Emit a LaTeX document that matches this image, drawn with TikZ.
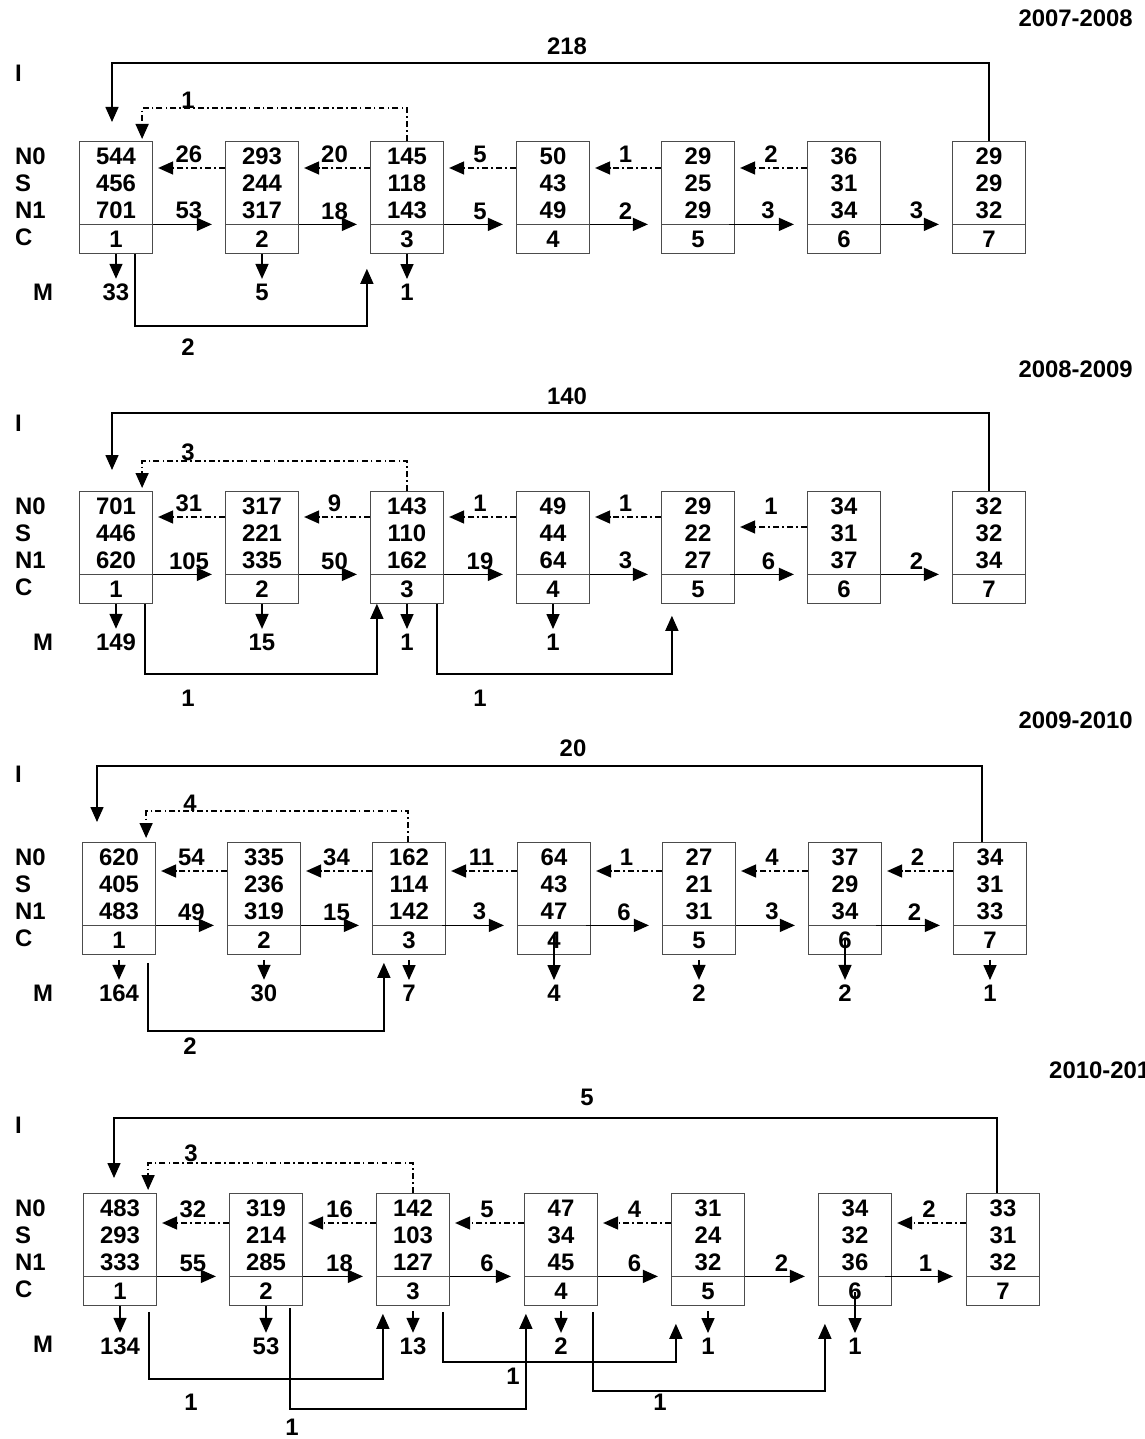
\documentclass[tikz,border=0pt]{standalone}
\usepackage{fontspec}
\setmainfont{Liberation Sans}
\usetikzlibrary{arrows.meta, calc, shapes.multipart}

\newcommand{\cellrow}[1]{\rule[-0.3pt]{0pt}{10pt}#1}

\tikzset{
  cellbox/.style={draw=black!70, line width=0.7pt, rectangle split, rectangle split parts=2,
    text width=1.46cm, align=center, inner xsep=0pt, inner ysep=0.1cm},
  lbl/.style={inner sep=2.5pt},
  fwd/.style={-{Triangle[length=0.3cm,width=0.26cm]}, line width=0.85pt},
  back/.style={fwd, dash pattern=on 3.4pt off 1.8pt on 0.9pt off 1.8pt, shorten >=0.1cm},
  yr/.style={anchor=east}
}

\begin{document}
\begin{tikzpicture}[x=0.02cm, y=-0.02cm, font=\bfseries\fontsize{13.6}{15.36}\selectfont]
\useasboundingbox (0,0) rectangle (1145,1439);

% row labels of the four years
\foreach \p/\oy in {1/0, 2/350, 3/701, 4/1052} {
  \node[anchor=west] (i\p) at (9,73+\oy) {I};
  \foreach \t/\y in {N0/156, S/183, N1/210, C/237}
    \node[anchor=west] (r\p\t) at (9,\y+\oy) {\t};
  \node (m\p) at (43,292+\oy) {M};
}

% ---------------- 2007-2008
\node[yr] (y1) at (1139,18) {2007-2008};
\foreach \x/\na/\nb/\nc [count=\i] in {116/544/456/701, 262/293/244/317, 407/145/118/143,
    553/50/43/49, 698/29/25/29, 844/36/31/34, 989/29/29/32}
  \node[cellbox, anchor=north] (p1b\i) at (\x,141) {\cellrow{\na}\\\nb\\\cellrow{\nc}\nodepart{two}\cellrow{\i}};
\foreach \i/\j/\v/\sh in {1/2/53/0, 2/3/18/0, 3/4/5/0, 4/5/2/0, 5/6/3/-0.12, 6/7/3/0}
  \draw[fwd, shorten >=0.26cm] ([xshift=\sh cm]p1b\i.one split east) -- node[lbl, above] (p1f\i) {\v} (p1b\j.one split west);
\foreach \i/\j/\v in {2/1/26, 3/2/20, 4/3/5, 5/4/1, 6/5/2}
  \draw[back] ([yshift=-0.54cm]p1b\i.north west) -- node[lbl, above] (p1r\i) {\v} ([yshift=-0.54cm]p1b\j.north east);
\foreach \i/\x/\v/\sh in {1/116/33/0, 2/262/5/0, 3/407/1/0} {
  \node[lbl] (p1m\i) at (\x,292) {\v};
  \draw[fwd] ([yshift=\sh cm]p1b\i.south) -- (p1m\i.north);
}
\draw[fwd] (p1b7.north) -- ++(0,-78) -| ($(p1b1.north)+(-4,-19)$);
\node (p1in) at (567,46) {218};
\draw[back, shorten >=0pt] (p1b3.north) -- ++(0,-33) -| ($(p1b1.north east)+(-11,-2)$);
\node (p1fb) at (188,100) {1};
\draw[fwd] ($(p1b1.south)+(19,0)$) -- ++(0,72) -| ($(p1b3.south west)+(-3,15)$);
\node (p1l1) at (188,347) {2};

% ---------------- 2008-2009
\node[yr] (y2) at (1139,369) {2008-2009};
\foreach \x/\na/\nb/\nc [count=\i] in {116/701/446/620, 262/317/221/335, 407/143/110/162,
    553/49/44/64, 698/29/22/27, 844/34/31/37, 989/32/32/34}
  \node[cellbox, anchor=north] (p2b\i) at (\x,491) {\cellrow{\na}\\\nb\\\cellrow{\nc}\nodepart{two}\cellrow{\i}};
\foreach \i/\j/\v/\sh in {1/2/105/0, 2/3/50/0, 3/4/19/0, 4/5/3/0, 5/6/6/-0.1, 6/7/2/0}
  \draw[fwd, shorten >=0.26cm] ([xshift=\sh cm]p2b\i.one split east) -- node[lbl, above] (p2f\i) {\v} (p2b\j.one split west);
\foreach \i/\j/\v in {2/1/31, 3/2/9, 4/3/1, 5/4/1}
  \draw[back] ([yshift=-0.52cm]p2b\i.north west) -- node[lbl, above] (p2r\i) {\v} ([yshift=-0.52cm]p2b\j.north east);
\draw[back] ([yshift=-0.72cm]p2b6.north west) -- ([yshift=-0.72cm]p2b5.north east);
\node (p2r6) at (771,506) {1};
\foreach \i/\x/\v/\sh in {1/116/149/0, 2/262/15/0, 3/407/1/0, 4/553/1/0} {
  \node[lbl] (p2m\i) at (\x,642) {\v};
  \draw[fwd] ([yshift=\sh cm]p2b\i.south) -- (p2m\i.north);
}
\draw[fwd] (p2b7.north) -- ++(0,-78) -| ($(p2b1.north)+(-4,-21)$);
\node (p2in) at (567,396) {140};
\draw[back, shorten >=0pt] (p2b3.north) -- ++(0,-30) -| ($(p2b1.north east)+(-11,-3)$);
\node (p2fb) at (188,452) {3};
\draw[fwd] ($(p2b1.south)+(29,0)$) -- ++(0,70) -| ($(p2b3.south west)+(7,0)$);
\node (p2l1) at (188,698) {1};
\draw[fwd] ($(p2b3.south)+(30,0)$) -- ++(0,70) -| ($(p2b5.south west)+(11,12)$);
\node (p2l2) at (480,698) {1};

% ---------------- 2009-2010
\node[yr] (y3) at (1139,720) {2009-2010};
\foreach \x/\na/\nb/\nc [count=\i] in {119/620/405/483, 264/335/236/319, 409/162/114/142,
    554/64/43/47, 699/27/21/31, 845/37/29/34, 990/34/31/33}
  \node[cellbox, anchor=north] (p3b\i) at (\x,842) {\cellrow{\na}\\\nb\\\cellrow{\nc}\nodepart{two}\cellrow{\i}};
\foreach \i/\j/\v/\sh in {1/2/49/0, 2/3/15/0, 3/4/3/-0.08, 4/5/6/-0.1, 5/6/3/0, 6/7/2/-0.12}
  \draw[fwd, shorten >=0.26cm] ([xshift=\sh cm]p3b\i.one split east) -- node[lbl, above] (p3f\i) {\v} (p3b\j.one split west);
\foreach \i/\j/\v in {2/1/54, 3/2/34, 4/3/11, 5/4/1, 6/5/4, 7/6/2}
  \draw[back] ([yshift=-0.58cm]p3b\i.north west) -- node[lbl, above] (p3r\i) {\v} ([yshift=-0.58cm]p3b\j.north east);
\foreach \i/\x/\v/\sh in {1/119/164/-0.1, 2/264/30/-0.1, 3/409/7/-0.1, 4/554/4/0.4, 5/699/2/-0.1, 6/845/2/0.3, 7/990/1/-0.1} {
  \node[lbl] (p3m\i) at (\x,993) {\v};
  \draw[fwd] ([yshift=\sh cm]p3b\i.south) -- (p3m\i.north);
}
\draw[fwd] ($(p3b7.north)+(-8,0)$) -- ++(0,-76) -| ($(p3b1.north)+(-22,-20)$);
\node (p3in) at (573,748) {20};
\draw[back, shorten >=0pt] ($(p3b3.north)+(-1,0)$) -- ++(0,-31) -| ($(p3b1.north east)+(-10,-4)$);
\node (p3fb) at (190,803) {4};
\draw[fwd] ($(p3b1.south)+(29,8)$) -- ++(0,68) -| ($(p3b3.south west)+(12,8)$);
\node (p3l1) at (190,1046) {2};

% ---------------- 2010-2011
\node[anchor=west] (y4) at (1043,1070) {2010-2011};
\foreach \x/\na/\nb/\nc [count=\i] in {120/483/293/333, 266/319/214/285, 413/142/103/127,
    561/47/34/45, 708/31/24/32, 855/34/32/36, 1003/33/31/32}
  \node[cellbox, anchor=north] (p4b\i) at (\x,1193) {\cellrow{\na}\\\nb\\\cellrow{\nc}\nodepart{two}\cellrow{\i}};
\foreach \i/\j/\v/\sh in {1/2/55/0, 2/3/18/0, 3/4/6/0, 4/5/6/0, 5/6/2/0, 6/7/1/-0.14}
  \draw[fwd, shorten >=0.26cm] ([xshift=\sh cm]p4b\i.one split east) -- node[lbl, above] (p4f\i) {\v} (p4b\j.one split west);
\foreach \i/\j/\v in {2/1/32, 3/2/16, 4/3/5, 5/4/4, 7/6/2}
  \draw[back] ([yshift=-0.6cm]p4b\i.north west) -- node[lbl, above] (p4r\i) {\v} ([yshift=-0.6cm]p4b\j.north east);
\foreach \i/\x/\v/\sh in {1/120/134/0, 2/266/53/0, 3/413/13/-0.1, 4/561/2/-0.1, 5/708/1/-0.1, 6/855/1/0.28} {
  \node[lbl] (p4m\i) at (\x,1346) {\v};
  \draw[fwd] ([yshift=\sh cm]p4b\i.south) -- (p4m\i.north);
}
\draw[fwd] ($(p4b7.north)+(-6,0)$) -- ++(0,-75) -| ($(p4b1.north)+(-6,-15)$);
\node (p4in) at (587,1097) {5};
\draw[back, shorten >=0pt] (p4b3.north) -- ++(0,-30) -| ($(p4b1.north east)+(-9,-3)$);
\node (p4fb) at (191,1153) {3};
\draw[fwd] ($(p4b1.south)+(29,6)$) -- ++(0,67) -| ($(p4b3.south west)+(7,8)$);
\node (p4l1) at (191,1402) {1};
\draw[fwd] ($(p4b2.south)+(24,2)$) -- ++(0,101) -| ($(p4b4.south west)+(2,8)$);
\node (p4l2) at (292,1427) {1};
\draw[fwd] ($(p4b3.south)+(30,6)$) -- ++(0,50) -| ($(p4b5.south west)+(5,18)$);
\node (p4l3) at (513,1376) {1};
\draw[fwd] ($(p4b4.south)+(32,6)$) -- ++(0,79) -| ($(p4b6.south west)+(7,18)$);
\node (p4l4) at (660,1402) {1};
\end{tikzpicture}
\end{document}
